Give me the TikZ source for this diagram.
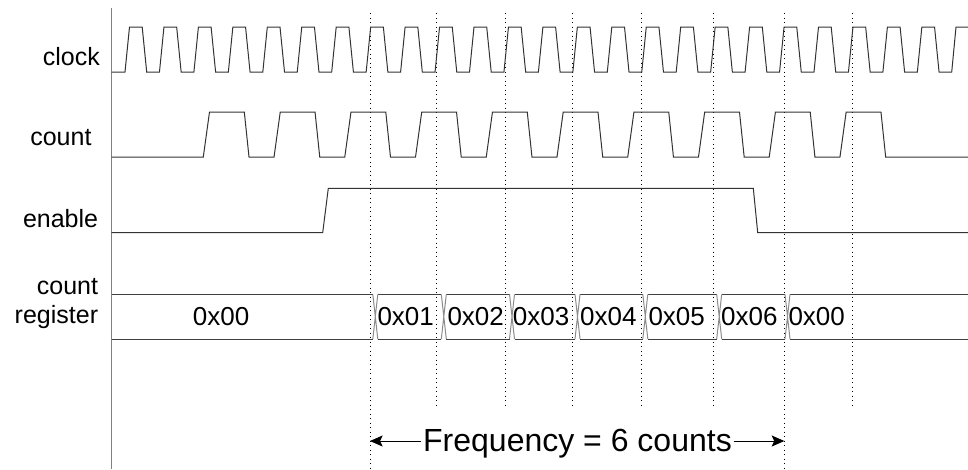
\documentclass[tikz,border=0pt]{standalone}
\usepackage{fontspec}
\setmainfont{Liberation Sans}
\usepackage{tikz}
\usetikzlibrary{arrows, arrows.meta}

\tikzset{
	wave/.style = {line width = 1pt, black!80},
	bus/.style = {line width = 1pt, black!75},
	grid/.style = {line width = 1pt, dash pattern = on 1pt off 3.5pt},
	sig/.style = {font = \fontsize{25}{29}\selectfont, inner sep = 0, anchor = base east},
	val/.style = {font = \fontsize{26}{30}\selectfont, inner sep = 0, anchor = base west},
	freqtip/.style = {-{Stealth[length = 12.6pt, width = 11pt, inset = 2.5pt]}, line width = 0.8pt},
}

\begin{document}
\begin{tikzpicture}[x = 1pt, y = -1pt]
	\useasboundingbox (0, 0) rectangle (968, 469);
	\draw [line width = 1pt, black!50] (111.7, 8) -- (111.7, 469);

	% signal names
	\node [sig] (clk) at (100, 65.7) {clock};
	\node [sig] (cnt) at (91.7, 145) {count};
	\node [sig] (en) at (98.3, 227.3) {enable};
	\node [sig] (regA) at (98.3, 294) {count};
	\node [sig] (regB) at (98.3, 323.3) {register};

	% sample instants
	\foreach \x in {436.5, 505.7, 572.7, 641.5, 713.3, 852.3}
		\draw [grid] (\x, 13) -- (\x, 406);
	\draw [grid] (370, 13) -- (370, 469);
	\draw [grid] (784.3, 13) -- (784.3, 469);

	% clock, count, enable
	\draw [wave] (111.7, 72) foreach \k in {0,...,23} { -- ({125 + 34.45*\k}, 72) -- ++(4.5, -45) -- ++(12.7, 0) -- ++(4.5, 45) } -- (951.7, 72) -- (956, 27) -- (968, 27);
	\draw [wave] (111.7, 157) foreach \k in {0,...,9} { -- ({203.3 + 70.74*\k}, 157) -- ++(6.2, -45) -- ++(34.8, 0) -- ++(4.7, 45) } -- (968, 157);
	\draw [wave] (111.7, 232.7) -- (322.7, 232.7) -- (328.3, 188.3) -- (753.3, 188.3) -- (757.7, 232.7) -- (968, 232.7);

	% count register
	\foreach \a/\b in {111.7/372.8, 377.8/441.3, 446.3/509.5, 514.5/575, 580/642.8, 647.8/716.7, 721.7/785, 790/968}
		\draw [bus] (\a, 294.3) -- (\b, 294.3) (\a, 339) -- (\b, 339);
	\foreach \t in {375.3, 443.8, 512, 577.5, 645.3, 719.2, 787.5}
		\draw [bus, black!45] (\t-2.5, 294.3) -- (\t+2.5, 339) (\t-2.5, 339) -- (\t+2.5, 294.3);
	\foreach \x/\txt [count = \i from 0] in {192.7/0x00, 377.3/0x01, 447.3/0x02, 512.7/0x03, 580/0x04, 648.3/0x05, 721/0x06, 788.3/0x00}
		\node [val] (v\i) at (\x, 325) {\txt};

	% frequency
	\coordinate (fl) at (370, 441);
	\coordinate (fr) at (784.3, 441);
	\node [font = \fontsize{32}{36}\selectfont, inner sep = 1.5pt, anchor = base] (freq) at (577.5, 451) {Frequency = 6 counts};
	\draw [freqtip] (freq.west |- fl) -- (fl);
	\draw [freqtip] (freq.east |- fr) -- (fr);
\end{tikzpicture}
\end{document}
